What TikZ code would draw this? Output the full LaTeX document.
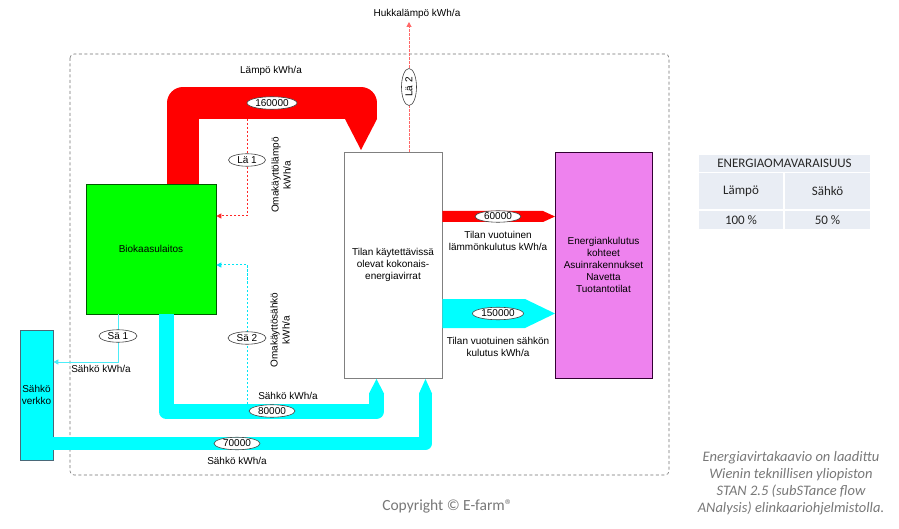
\documentclass[tikz,border=0pt]{standalone}
\usepackage{fontspec}
\setmainfont{Liberation Sans}
\newfontfamily\carl{Carlito}
\usetikzlibrary{shapes.geometric,arrows.meta}
\definecolor{pcyan}{RGB}{0,255,255}
\definecolor{pred}{RGB}{255,0,0}
\definecolor{pgreen}{RGB}{0,255,0}
\definecolor{lred}{RGB}{255,40,40}
\definecolor{lcyan}{RGB}{0,230,245}
\definecolor{tblfill}{RGB}{233,237,244}
\definecolor{pviolet}{RGB}{238,130,238}
\definecolor{notegray}{RGB}{120,120,120}
\begin{document}
\begin{tikzpicture}[x=1pt,y=-1pt,
  every node/.style={font=\fontsize{10}{12}\selectfont, inner sep=0pt},
  box/.style={draw, line width=0.7pt, align=center},
  lbl/.style={ellipse, draw=black!75, fill=white, line width=0.6pt, minimum height=12.5pt},
  txt/.style={align=center},
  ladash/.style={draw=lred, line width=1pt, dash pattern=on 2.5pt off 1.5pt, -{Triangle[width=5pt,length=5pt]}},
  sadash/.style={draw=lcyan, line width=1pt, dash pattern=on 2.5pt off 1.5pt, -{Triangle[width=5pt,length=5pt]}},
  sasolid/.style={draw=lcyan!70!white, line width=0.9pt, -{Triangle[width=5pt,length=5pt]}},
  cell/.style={fill=tblfill, font=\carl\fontsize{13}{15}\selectfont, text=black!85},
  note/.style={font=\carl\itshape\fontsize{14.5}{17}\selectfont, text=notegray, align=center}
]
\fill[white] (0,0) rectangle (899,529);
\useasboundingbox (0,0) rectangle (899,529);

% frame
\draw[black!55, line width=0.6pt, dash pattern=on 3pt off 2.5pt, rounded corners=4pt] (70,54) rectangle (669,475);

% main boxes
\node[box, draw=black!65!green, fill=pgreen, minimum width=130pt, minimum height=130pt] (bio) at (151,249) {Biokaasulaitos};
\node[box, draw=black!50, fill=white, minimum width=98pt, minimum height=226pt] (tilan) at (393,265) {Tilan käytettävissä\\olevat kokonais-\\energiavirrat};
\node[box, draw=black!60!violet, fill=pviolet, minimum width=97pt, minimum height=226pt] (kohde) at (603.5,265) {Energiankulutus\\kohteet\\Asuinrakennukset\\Navetta\\Tuotantotilat};
\node[box, draw=black!60!cyan, fill=pcyan, minimum width=33pt, minimum height=130pt] (verkko) at (36.5,395) {Sähkö\\verkko};

% red heat pipe
\coordinate (rpa) at (183,103);
\coordinate (rpb) at (361,103);
\coordinate (rpc) at (361,119);
\draw[pred, line width=32pt, line join=round] (rpa |- bio.north) -- (rpa) -- (rpb) -- (rpc);
\fill[pred] (345,119) -- (377,119) -- (361,150) -- cycle;

% cyan pipe 80000
\coordinate (cpa) at (166,411.5);
\coordinate (cpb) at (376.5,411.5);
\coordinate (cpc) at (376.5,393);
\draw[pcyan, line width=15pt, line join=round] (cpa |- bio.south) -- (cpa) -- (cpb) -- (cpc);
\fill[pcyan] (369,393.5) -- (384,393.5) -- (376.5,379) -- cycle;

% cyan pipe 70000
\coordinate (cqa) at (425.5,443.5);
\coordinate (cqb) at (425.5,393);
\draw[pcyan, line width=13pt, line join=round] (cqa -| verkko.east) -- (cqa) -- (cqb);
\fill[pcyan] (419,393.5) -- (432,393.5) -- (425.5,379) -- cycle;

% outgoing arrows
\fill[pred] (tilan.east |- 0,211) -- (543,211) -- (555,216.5) -- (543,222) -- (tilan.east |- 0,222) -- cycle;
\fill[pcyan] (tilan.east |- 0,299) -- (525,299) -- (555,313.5) -- (525,328) -- (tilan.east |- 0,328) -- cycle;

% dashed / thin connectors
\coordinate (la1a) at (247,119);
\coordinate (la1b) at (247,216);
\draw[ladash] (la1a) -- (la1b) -- (la1b -| bio.east);
\coordinate (sa2a) at (247,404);
\coordinate (sa2b) at (247,265);
\draw[sadash] (sa2a) -- (sa2b) -- (sa2b -| bio.east);
\coordinate (sa1a) at (118,362);
\draw[sasolid] (sa1a |- bio.south) -- (sa1a) -- (sa1a -| verkko.east);
\coordinate (la2t) at (409,22);
\draw[ladash, draw=lred!70!white] (la2t |- tilan.north) -- (la2t);

% ellipse labels
\node[lbl, minimum width=50pt] (e160) at (272,103) {160000};
\node[lbl, minimum width=37pt] (la1) at (247,160) {Lä 1};
\node[lbl, minimum width=38pt] (sa2) at (247,338) {Sä 2};
\node[lbl, minimum width=38pt] (sa1) at (118,336) {Sä 1};
\node[lbl, minimum width=46pt] (e80) at (272,411) {80000};
\node[lbl, minimum width=46pt] (e70) at (237,443.5) {70000};
\node[lbl, minimum width=46pt, minimum height=11.5pt] (e60) at (498,216.5) {60000};
\node[lbl, minimum width=51pt] (e150) at (498,313.5) {150000};
\node[lbl, minimum width=37pt, minimum height=15pt, rotate=90] (la2) at (409,87) {Lä 2};

% text labels
\node[txt] (tl1) at (271,71) {Lämpö kWh/a};
\node[txt] (tl2) at (417,14) {Hukkalämpö kWh/a};
\node[txt, rotate=90] (tl3) at (281,175) {Omakäyttölämpö\\kWh/a};
\node[txt, rotate=90] (tl4) at (280,330) {Omakäyttösähkö\\kWh/a};
\node[txt] (tl5) at (101,369) {Sähkö kWh/a};
\node[txt] (tl6) at (288,396) {Sähkö kWh/a};
\node[txt] (tl7) at (237,461) {Sähkö kWh/a};
\node[txt] (tl8) at (498,241) {Tilan vuotuinen\\lämmönkulutus kWh/a};
\node[txt] (tl9) at (498,346.5) {Tilan vuotuinen sähkön\\kulutus kWh/a};

% table
\node[cell, minimum width=171pt, minimum height=17pt] (th) at (784.5,163.5) {ENERGIAOMAVARAISUUS};
\node[cell, minimum width=84pt, minimum height=36pt] (c1) at (741,191) {Lämpö};
\node[cell, minimum width=85pt, minimum height=36pt] (c2) at (827.5,191) {Sähkö};
\node[cell, minimum width=84pt, minimum height=18pt] (c3) at (741,220) {100 \%};
\node[cell, minimum width=85pt, minimum height=18pt] (c4) at (827.5,220) {50 \%};

% notes
\node[note] (nt) at (791,483.5) {Energiavirtakaavio on laadittu\\Wienin teknillisen yliopiston\\STAN 2.5 (subSTance flow\\ANalysis) elinkaariohjelmistolla.};
\node[font=\carl\fontsize{15.5}{17}\selectfont, text=notegray] (copy) at (447.5,506) {Copyright © E-farm®};
\end{tikzpicture}
\end{document}
